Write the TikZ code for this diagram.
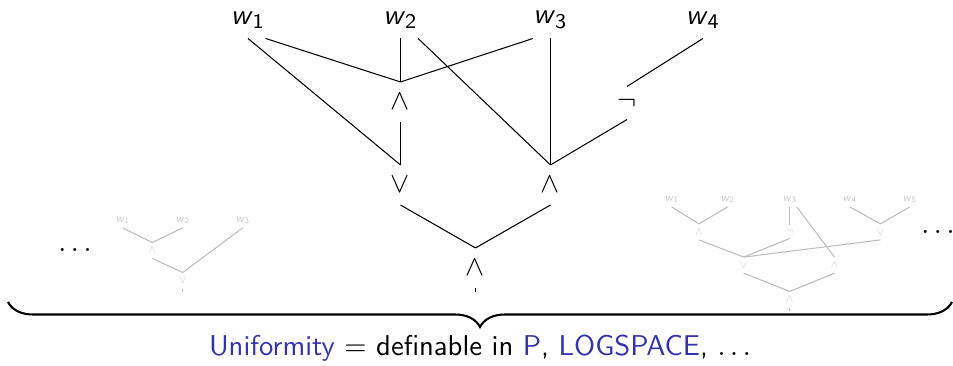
\documentclass[tikz,border=0pt,11pt]{standalone}
\usepackage{amsmath}
\usepackage{fontspec}
\usepackage{tikz}
\usetikzlibrary{decorations.pathreplacing}
\definecolor{mystruct}{RGB}{51,51,178}
\definecolor{mylight}{RGB}{188,188,188}
\definecolor{mylighttext}{RGB}{200,200,200}
\newcommand{\wvar}[1]{\textit{w}$_{\textsf{#1}}$}
\tikzset{
  inp/.style={inner sep=0pt, minimum height=4.83mm},
  gate/.style={inner sep=0pt, minimum height=5.24mm},
  notgate/.style={inner sep=0pt, minimum height=4.3mm},
  wire/.style={color=black},
  faded/.style={nodes={text=mylighttext}, wire/.style={color=mylight}},
  bigbrace/.style={decorate, decoration={brace, mirror, amplitude=3.36mm}, thick}
}

\begin{document}
\begin{tikzpicture}[x=0.1343mm, y=-0.1343mm, font=\sffamily]
  \useasboundingbox (0,0) rectangle (953,366);

  % Inputs
  \node[inp] (w1) at (248,20) {\wvar{1}};
  \node[inp] (w2) at (400.5,20) {\wvar{2}};
  \node[inp] (w3) at (550.5,20) {\wvar{3}};
  \node[inp] (w4) at (703,20) {\wvar{4}};

  % First level
  \node[gate] (and1) at (400.5,102) {$\wedge$};
  \node[notgate] (not1) at (627,103) {$\neg$};

  % Second level
  \node[gate] (or1) at (400.5,185) {$\vee$};
  \node[gate] (and2) at (550.5,185) {$\wedge$};

  % Output gate
  \node[gate] (outg) at (475.5,268) {$\wedge$};
  \coordinate (outend) at (475.5,292);

  % Wires
  \draw[wire] (w1.south) -- (or1.north);
  \draw[wire] (w1.south east) -- (and1.north);
  \draw[wire] (w2.south) -- (and1.north);
  \draw[wire] (w2.south east) -- (and2.north);
  \draw[wire] (w3.south west) -- (and1.north);
  \draw[wire] (w3.south) -- (and2.north);
  \draw[wire] (w4.south) -- (not1.north);
  \draw[wire] (not1.south) -- (and2.north);
  \draw[wire] (and1.south) -- (or1.north);
  \draw[wire] (or1.south) -- (outg.north);
  \draw[wire] (and2.south) -- (outg.north);
  \draw[wire] (outg.south) -- (outend);

  % Small circuit on the left
  \node (ldots) at (75,250) {$\ldots$};
  \begin{scope}[shift={(122.7,220.5)}, scale=0.4, transform shape, faded]
    \node[inp] (lw1) at (0,0) {\wvar{1}};
    \node[inp] (lw2) at (150,0) {\wvar{2}};
    \node[inp] (lw3) at (300,0) {\wvar{3}};
    \node[gate] (land) at (74,75) {$\wedge$};
    \node[gate] (lor) at (150,150) {$\vee$};
    \coordinate (lend) at (150,178);
    \draw[wire] (lw1.south) -- (land.north);
    \draw[wire] (lw2.south) -- (land.north);
    \draw[wire] (land.south) -- (lor.north);
    \draw[wire] (lw3.south) -- (lor.north);
    \draw[wire] (lor.south) -- (lend);
  \end{scope}

  % Small circuit on the right
  \begin{scope}[shift={(671.7,199.5)}, scale=0.4, transform shape, faded]
    \node[inp] (rw1) at (0,0) {\wvar{1}};
    \node[inp] (rw2) at (140,0) {\wvar{2}};
    \node[inp] (rw3) at (295,0) {\wvar{3}};
    \node[inp] (rw4) at (445,0) {\wvar{4}};
    \node[inp] (rw5) at (595,0) {\wvar{5}};
    \node[gate] (rand1) at (68,81) {$\wedge$};
    \node[notgate] (rnot) at (295,81) {$\neg$};
    \node[gate] (ror1) at (522,81) {$\vee$};
    \node[gate] (ror2) at (180,164) {$\vee$};
    \node[gate] (rand2) at (407,164) {$\wedge$};
    \node[gate] (rout) at (295,250) {$\wedge$};
    \coordinate (rend) at (295,279);
    \draw[wire] (rw1.south) -- (rand1.north);
    \draw[wire] (rw2.south) -- (rand1.north);
    \draw[wire] (rw3.south) -- (rnot.north);
    \draw[wire] (rw3.south east) -- (rand2.north);
    \draw[wire] (rw4.south) -- (ror1.north);
    \draw[wire] (rw5.south) -- (ror1.north);
    \draw[wire] (rand1.south) -- (ror2.north);
    \draw[wire] (rnot.south) -- (ror2.north);
    \draw[wire] (ror1.south) -- (ror2.north);
    \draw[wire] (ror2.south) -- (rout.north);
    \draw[wire] (rand2.south) -- (rout.north);
    \draw[wire] (rout.south) -- (rend);
  \end{scope}
  \node (rdots) at (938,232) {$\ldots$};

  % Brace and caption
  \coordinate (bl) at (8,302);
  \coordinate (br) at (952,302);
  \draw[bigbrace] (bl) -- (br);
  \node (caption) at (480,348) {\textcolor{mystruct}{Uniformity} $=$ definable in \textcolor{mystruct}{P}, \textcolor{mystruct}{LOGSPACE}, $\ldots$};
\end{tikzpicture}
\end{document}
